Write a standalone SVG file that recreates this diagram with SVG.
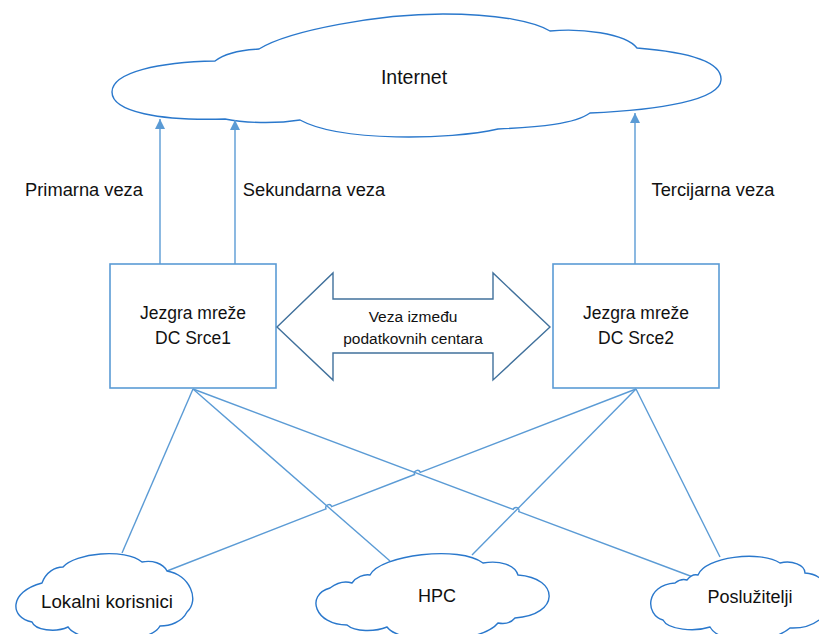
<svg xmlns="http://www.w3.org/2000/svg" width="819" height="634" viewBox="0 0 819 634">
<defs>
<style>
text{font-family:"Liberation Sans",Arial,sans-serif;fill:#111;text-anchor:middle}
.cloud{fill:#fff;stroke:#2a78cc;stroke-width:1.4}
.box{fill:#fff;stroke:#5b9bd5;stroke-width:1.6}
.conn{fill:none;stroke:#5b9bd5;stroke-width:1.4}
.dbl{fill:#fff;stroke:#41719c;stroke-width:1.4}
</style>
<marker id="ah" markerUnits="userSpaceOnUse" markerWidth="10" markerHeight="10" refX="10" refY="5" orient="auto" viewBox="0 0 10 10">
<path d="M0,0 L10,5 L0,10 z" fill="#5b9bd5"/>
</marker>
</defs>
<rect width="819" height="634" fill="#fff"/>

<g id="internet">
<path class="cloud" d="M215,61 C225,53 240,50 259,49 C290,30 380,14 443,14 C500,14 535,22 550,31 C580,28 625,33 637,48 C700,53 722,65 721,80 C720,100 660,110 590,113 C575,124 540,127 498,129 C450,140 340,142 300,120 C275,124 245,123 225,119 C160,121 112,112 112,92 C112,72 160,62 215,61 Z"/>
<text x="414" y="84" font-size="19.5">Internet</text>
</g>

<g id="connectors">
<line class="conn" x1="160" y1="264" x2="160" y2="119" marker-end="url(#ah)"/>
<line class="conn" x1="235" y1="264" x2="235" y2="120" marker-end="url(#ah)"/>
<line class="conn" x1="635" y1="264" x2="635" y2="113" marker-end="url(#ah)"/>
<line class="conn" x1="193" y1="389" x2="122" y2="553"/>
<line class="conn" x1="193" y1="389" x2="390" y2="561"/>
<path class="conn" d="M193,389 L513.2,509.4 A3,3 0 0 1 518.8,511.6 L693,577"/>
<path class="conn" d="M167,571 L326,508.8 A3,3 0 0 1 331.6,506.6 L414.6,474.5 A3,3 0 0 1 420.2,472.3 L636,389"/>
<line class="conn" x1="636" y1="389" x2="472" y2="555"/>
<line class="conn" x1="636" y1="389" x2="720" y2="557"/>
</g>

<g id="labels">
<text x="84" y="196" font-size="18.3">Primarna veza</text>
<text x="314" y="196" font-size="18.3">Sekundarna veza</text>
<text x="713" y="196" font-size="18.3">Tercijarna veza</text>
</g>

<g id="dc1">
<rect class="box" x="110" y="264" width="166" height="124"/>
<text x="193" y="319" font-size="17.5">Jezgra mreže</text>
<text x="193" y="344" font-size="17.5">DC Srce1</text>
</g>

<g id="dc2">
<rect class="box" x="553" y="264" width="166" height="124"/>
<text x="636" y="319" font-size="17.5">Jezgra mreže</text>
<text x="636" y="344" font-size="17.5">DC Srce2</text>
</g>

<g id="link">
<path class="dbl" d="M277,327 L333,273 L333,299 L493,299 L493,273 L550,327 L493,380 L493,353 L333,353 L333,380 Z"/>
<text x="413" y="322" font-size="15.5">Veza između</text>
<text x="413" y="344" font-size="15.5">podatkovnih centara</text>
</g>

<g id="lokalni">
<path class="cloud" d="M42,583 C46,572 55,567 63,567 C75,553 125,548 142,562 C152,560 163,563 167,571 C190,575 200,600 187,612 C182,622 170,626 160,626 C150,645 80,645 68,627 C55,633 35,630 32,622 C10,618 8,592 42,583 Z"/>
<text x="107" y="608" font-size="18.7">Lokalni korisnici</text>
</g>

<g id="hpc">
<path class="cloud" d="M352,583 C356,577 364,574 370,575 C380,555 460,545 483,563 C500,560 515,565 518,575 C560,578 560,615 515,618 C510,624 503,624 498,623 C480,645 400,645 387,627 C375,632 355,632 347,625 C315,625 305,595 330,588 C338,582 346,581 352,583 Z"/>
<text x="437" y="602" font-size="18">HPC</text>
</g>

<g id="posluzitelji">
<path class="cloud" d="M687,580 C690,576 694,574 698,575 C705,557 760,550 780,563 C792,560 805,565 805,573 C840,575 840,630 790,628 C770,645 720,645 710,627 C695,632 668,630 663,620 C645,615 645,585 675,583 C680,579 684,579 687,580 Z"/>
<text x="750" y="603" font-size="18">Poslužitelji</text>
</g>
</svg>
